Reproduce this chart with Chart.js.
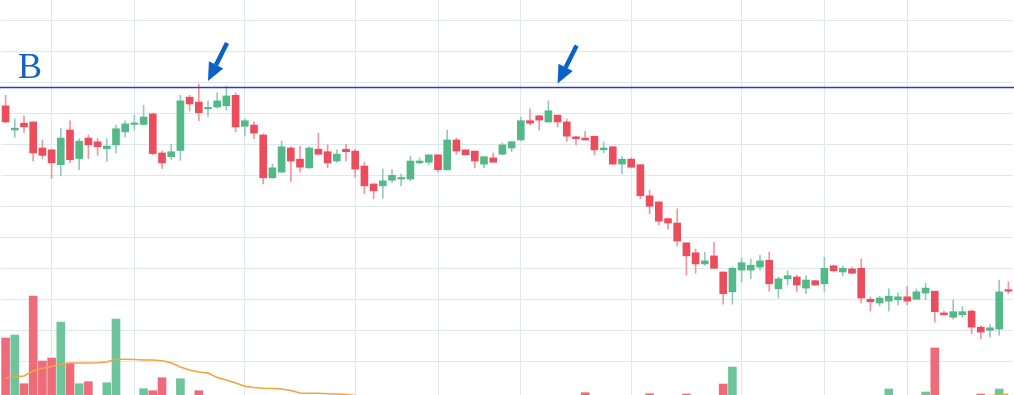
<!DOCTYPE html>
<html>
<head>
<meta charset="utf-8">
<script src="https://cdn.jsdelivr.net/npm/chart.js@4.4.1/dist/chart.umd.min.js"></script>
<style>
  html, body { margin: 0; padding: 0; background: #fff; }
  canvas { display: block; }
</style>
</head>
<body>
<canvas id="kChart" width="1014" height="395"></canvas>
<script>
// daily candles
const opens = [22.62,22.23,22.34,22.36,21.94,21.91,21.67,22.23,21.77,22.10,
  22.04,21.93,21.99,22.20,22.32,22.32,22.49,21.86,21.80,21.90,
  22.76,22.68,22.57,22.60,22.62,22.79,22.29,22.31,22.15,21.46,
  21.55,21.94,21.76,21.62,21.92,21.88,21.73,21.92,21.89,21.65,
  21.36,21.33,21.42,21.44,21.44,21.70,21.71,21.83,21.59,22.07,
  21.91,21.89,21.68,21.78,21.84,21.94,22.07,22.38,22.46,22.36,
  22.47,22.36,22.12,22.10,22.13,21.91,21.96,21.68,21.76,21.67,
  21.17,21.07,20.80,20.73,20.41,20.25,20.07,20.20,19.94,19.62,
  19.97,19.97,20.02,20.13,19.67,19.83,19.86,19.68,19.80,19.75,
  20.04,19.94,19.99,20.00,19.50,19.44,19.47,19.49,19.54,19.50,
  19.60,19.63,19.28,19.21,19.25,19.31,19.05,19.00,19.02,19.65];

const highs = [22.79,22.41,22.46,22.36,22.07,21.92,22.26,22.38,22.09,22.15,
  22.09,22.09,22.31,22.38,22.47,22.63,22.50,21.89,22.00,22.79,
  22.79,22.97,22.70,22.83,22.94,22.83,22.41,22.36,22.17,21.68,
  22.05,21.96,21.97,21.96,22.18,21.99,21.91,22.00,21.92,21.71,
  21.36,21.60,21.59,21.52,21.81,21.78,21.83,21.83,22.23,22.10,
  21.91,21.89,21.80,21.86,22.02,22.05,22.44,22.57,22.46,22.70,
  22.47,22.41,22.13,22.21,22.13,22.04,21.96,21.80,21.78,21.67,
  21.26,21.07,20.81,20.96,20.41,20.31,20.26,20.42,19.94,20.02,
  20.17,20.15,20.21,20.26,19.86,19.96,19.89,19.88,19.80,20.18,
  20.05,20.04,20.02,20.15,19.54,19.55,19.67,19.60,19.71,19.67,
  19.76,19.63,19.31,19.49,19.38,19.33,19.07,19.09,19.81,19.78];

const lows = [22.35,22.11,22.19,21.73,21.77,21.45,21.49,21.70,21.59,21.77,
  21.82,21.72,21.86,22.12,22.23,22.31,21.83,21.61,21.75,21.74,
  22.54,22.38,22.45,22.59,22.55,22.20,22.13,22.09,21.36,21.45,
  21.54,21.40,21.55,21.61,21.83,21.62,21.71,21.73,21.47,21.20,
  21.12,21.13,21.38,21.33,21.41,21.68,21.67,21.55,21.58,21.84,
  21.83,21.62,21.62,21.71,21.83,21.88,22.06,22.31,22.23,22.35,
  22.28,22.05,21.99,22.07,21.83,21.86,21.68,21.52,21.63,21.12,
  20.88,20.70,20.63,20.36,19.89,19.92,20.05,19.99,19.42,19.42,
  19.78,19.83,19.97,19.63,19.52,19.73,19.62,19.59,19.73,19.63,
  19.94,19.88,19.92,19.44,19.31,19.39,19.31,19.41,19.41,19.50,
  19.49,19.13,19.25,19.18,19.21,18.94,18.86,18.89,18.92,19.59];

const closes = [22.36,22.26,22.28,21.86,21.82,21.70,22.10,21.75,22.05,21.99,
  21.96,21.97,22.25,22.33,22.34,22.44,21.85,21.70,21.88,22.70,
  22.65,22.51,22.59,22.70,22.78,22.28,22.38,22.18,21.46,21.62,
  21.96,21.73,21.63,21.94,21.84,21.70,21.84,21.88,21.60,21.33,
  21.25,21.41,21.50,21.46,21.73,21.73,21.83,21.59,22.07,21.89,
  21.83,21.73,21.80,21.71,21.99,22.04,22.38,22.34,22.39,22.54,
  22.36,22.13,22.09,22.07,21.91,21.94,21.68,21.76,21.63,21.17,
  21.00,20.76,20.73,20.44,20.20,20.07,20.12,20.00,19.59,20.00,
  20.09,20.05,20.12,19.75,19.83,19.88,19.73,19.81,19.73,20.00,
  19.96,20.00,19.92,19.52,19.46,19.52,19.55,19.54,19.47,19.62,
  19.68,19.30,19.25,19.30,19.30,19.05,18.97,19.04,19.62,19.63];

// volume and its moving average (most bars sit below the visible floor)
const volumes = [770,800,313,1190,540,570,930,520,313,333,
  180,323,960,170,150,263,243,373,190,363,
  160,243,120,140,90,110,150,100,130,80,
  120,95,140,110,90,160,120,100,150,130,
  170,110,90,120,80,140,100,130,110,90,
  150,120,100,140,110,130,170,120,90,150,
  110,140,100,223,120,90,130,110,150,120,
  213,140,160,120,210,130,110,150,310,480,
  170,130,150,120,110,140,100,130,90,150,
  120,100,140,110,130,160,260,110,120,140,
  230,670,150,120,100,140,210,130,260,120];

const volumeMA = [370,383,390,440,465,485,505,517,520,520,
  522,530,557,557,555,550,550,543,523,480,
  450,430,420,375,350,320,288,275,268,265,
  260,245,220,218,217,213,210,205,195,185,
  175,165,160,155,150,150,148,145,140,140,
  138,135,135,132,130,130,128,128,126,125,
  125,124,124,126,127,128,129,130,132,134,
  138,140,142,145,150,152,155,160,168,175,
  178,180,180,178,176,174,172,170,168,165,
  162,160,158,155,150,148,150,152,150,148,
  152,175,178,180,182,185,190,195,200,210];

// candle indexes where the vertical grid lines fall
const gridIdx = [5, 14, 26, 38, 47, 56, 68, 80, 89, 98];

// resistance level "B" and the two arrows pointing at it
const levelPrice = 22.915;
const levelLabel = 'B';
const arrowIdx = [22, 60];
const arrowPrice = [23.02, 22.98];

const priceMin = 17.956, priceMax = 24.327;
const volMin = 200, volMax = 4150;

const gridColor = '#dfe8f0';
const upColor = '#53b987', downColor = '#eb4d5c';
const upWick = '#95c7c9', downWick = '#f3949e';
const upVol = '#6ec59b', downVol = '#ee6c79';

const labels = opens.map((_, i) => i + 1);
const isUp = closes.map((c, i) => c >= opens[i]);

function drawArrow(ctx, tipX, tipY) {
    const dx = 19, dy = -38;
    const len = Math.hypot(dx, dy);
    const ux = -dx / len, uy = -dy / len;
    const headLen = 18, headHalf = 8;
    const bx = tipX - ux * headLen, by = tipY - uy * headLen;
    ctx.strokeStyle = '#0a62c8';
    ctx.fillStyle = '#0a62c8';
    ctx.lineWidth = 4.5;
    ctx.beginPath();
    ctx.moveTo(tipX + dx, tipY + dy);
    ctx.lineTo(bx, by);
    ctx.stroke();
    ctx.beginPath();
    ctx.moveTo(tipX, tipY);
    ctx.lineTo(bx - uy * headHalf, by + ux * headHalf);
    ctx.lineTo(bx + uy * headHalf, by - ux * headHalf);
    ctx.closePath();
    ctx.fill();
}

const markerPlugin = {
    id: 'markers',
    afterDatasetsDraw(chart) {
        const { ctx, chartArea, scales } = chart;
        const y = scales.y.getPixelForValue(levelPrice);
        ctx.save();
        ctx.strokeStyle = '#3434d6';
        ctx.lineWidth = 1.5;
        ctx.beginPath();
        ctx.moveTo(chartArea.left - 1, y);
        ctx.lineTo(chartArea.right + 1, y);
        ctx.stroke();

        ctx.fillStyle = '#0f63c6';
        ctx.font = '36px "Liberation Serif"';
        ctx.textBaseline = 'alphabetic';
        ctx.fillText(levelLabel, chartArea.left + 17, y - 9.5);

        arrowIdx.forEach((idx, k) => {
            drawArrow(ctx, scales.x.getPixelForValue(idx), scales.y.getPixelForValue(arrowPrice[k]));
        });
        ctx.restore();
    }
};

new Chart(document.getElementById('kChart'), {
    type: 'bar',
    data: {
        labels,
        datasets: [
            {
                type: 'line',
                label: 'Vol MA',
                data: volumeMA,
                yAxisID: 'yv',
                borderColor: '#f5a33a',
                borderWidth: 1.5,
                pointRadius: 0,
                tension: 0,
                order: 0
            },
            {
                label: 'wick',
                data: lows.map((l, i) => [l, highs[i]]),
                backgroundColor: isUp.map(u => u ? upWick : downWick),
                barThickness: 1,
                grouped: false,
                order: 2
            },
            {
                label: 'body',
                data: opens.map((o, i) => [o, closes[i]]),
                backgroundColor: isUp.map(u => u ? upColor : downColor),
                barThickness: 7,
                minBarLength: 1.5,
                grouped: false,
                order: 1
            },
            {
                label: 'Volume',
                data: volumes,
                yAxisID: 'yv',
                backgroundColor: isUp.map(u => u ? upVol : downVol),
                barThickness: 8,
                grouped: false,
                order: 3
            }
        ]
    },
    options: {
        responsive: false,
        animation: false,
        events: [],
        layout: { padding: { left: 1, right: 1, top: 0, bottom: 0 } },
        plugins: {
            legend: { display: false },
            tooltip: { enabled: false }
        },
        scales: {
            x: {
                offset: true,
                grid: {
                    offset: false,
                    drawTicks: false,
                    lineWidth: 1,
                    color: ctx => gridIdx.includes(ctx.index) ? gridColor : 'transparent'
                },
                border: { display: false },
                ticks: { display: false, autoSkip: false }
            },
            y: {
                position: 'left',
                min: priceMin,
                max: priceMax,
                grid: { drawTicks: false, color: gridColor, lineWidth: 1 },
                border: { display: false },
                ticks: { display: false, stepSize: 0.5, maxTicksLimit: 30 },
                afterBuildTicks: axis => {
                    axis.ticks = axis.ticks.filter(t => Math.abs(t.value * 2 - Math.round(t.value * 2)) < 1e-6);
                }
            },
            yv: {
                display: false,
                min: volMin,
                max: volMax
            }
        }
    },
    plugins: [markerPlugin]
});
</script>
</body>
</html>
